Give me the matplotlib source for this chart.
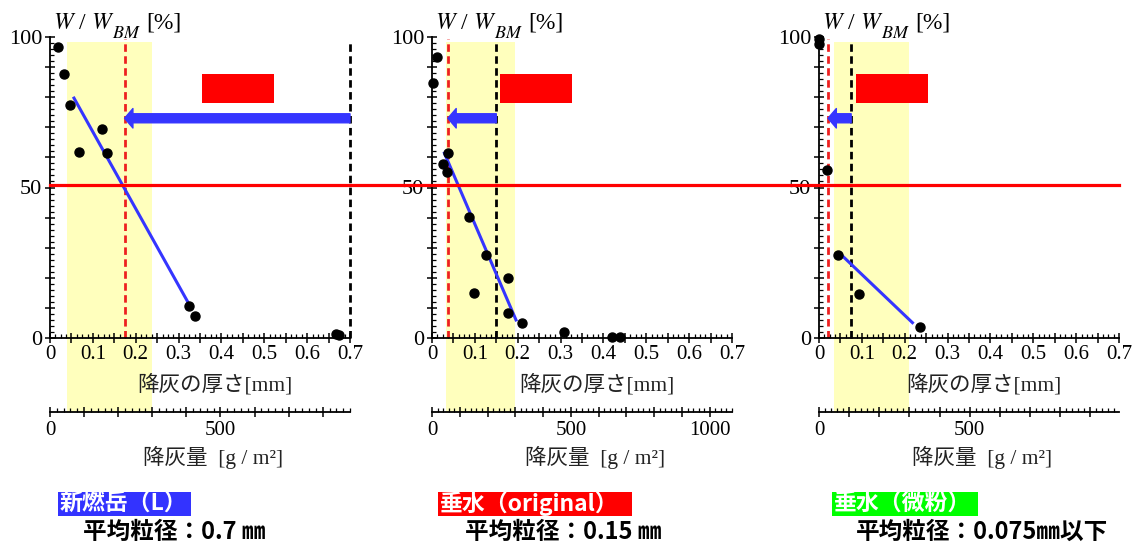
import matplotlib
matplotlib.use("Agg")
import matplotlib.pyplot as plt
from matplotlib.patches import Rectangle
from matplotlib.lines import Line2D
from matplotlib import transforms
from matplotlib.ticker import MultipleLocator, FuncFormatter

plt.rcParams["font.family"] = ["Liberation Serif", "Noto Sans CJK JP"]
plt.rcParams["mathtext.fontset"] = "stix"

# ---- data ----
thick_L = [0.019, 0.033, 0.047, 0.068, 0.122, 0.134, 0.324, 0.339, 0.667, 0.674]
ratio_L = [96.6, 87.7, 77.4, 61.7, 69.4, 61.4, 10.6, 7.3, 1.3, 1.0]
fit_x_L = [0.056, 0.323]
fit_y_L = [79.7, 11.6]

thick_O = [0.002, 0.012, 0.026, 0.036, 0.038, 0.087, 0.098, 0.126, 0.178, 0.178,
           0.209, 0.308, 0.421, 0.439]
ratio_O = [84.8, 93.2, 57.7, 55.3, 61.4, 40.3, 15.1, 27.6, 20.0, 8.2,
           5.1, 2.1, 0.2, 0.2]
fit_x_O = [0.029, 0.196]
fit_y_O = [61.4, 6.0]

thick_F = [0.0, 0.001, 0.018, 0.045, 0.093, 0.236]
ratio_F = [99.3, 97.8, 55.8, 27.6, 14.6, 3.5]
fit_x_F = [0.05, 0.218]
fit_y_F = [27.9, 5.1]

half_thick = [0.174, 0.037, 0.021]      # red dashed
grain_size = [0.7, 0.15, 0.075]         # black dashed
arrow_y = 73
redbox_x = [0.355, 0.158, 0.086]
redbox_w = 0.168
redbox_y = [78.1, 87.7]
band_gm2 = [50, 300]                    # yellow band in g/m2
gm2_max = [880, 1080, 995]              # g/m2 at 0.7 mm
level_50 = 50.8

names = ["新燃岳（L）", "垂水（original）", "垂水（微粉）"]
name_colors = ["#3333ff", "#ff0000", "#00ff00"]
grain_text = ["平均粒径：0.7 ㎜", "平均粒径：0.15 ㎜", "平均粒径：0.075㎜以下"]

panels = [(thick_L, ratio_L, fit_x_L, fit_y_L),
          (thick_O, ratio_O, fit_x_O, fit_y_O),
          (thick_F, ratio_F, fit_x_F, fit_y_F)]

# ---- layout (pixels) ----
W, H = 1137, 545
ax_left = [50, 432, 819]
ax_w = 300
ax_top, ax_bot = 37, 338
sec_y = 412
box_left = [58, 438, 832]
box_w = [133, 194, 146]
text_left = [83, 465, 856]

fig = plt.figure(figsize=(W / 100, H / 100), dpi=100)
blue = "#3535ff"
dash = (0, (2.7, 1.6))

axes = []
for i, (tx, ry, fx, fy) in enumerate(panels):
    x0 = ax_left[i]
    ax = fig.add_axes([x0 / W, (H - ax_bot) / H, ax_w / W, (ax_bot - ax_top) / H])
    ax.set_facecolor("none")
    axes.append(ax)
    ax.set_xlim(0, 0.7)
    ax.set_ylim(0, 100)
    for s in ["top", "right"]:
        ax.spines[s].set_visible(False)
    for s in ["left", "bottom"]:
        ax.spines[s].set_linewidth(1.3)

    ax.xaxis.set_major_locator(MultipleLocator(0.05))
    ax.xaxis.set_minor_locator(MultipleLocator(0.0125))
    ax.xaxis.set_major_formatter(FuncFormatter(
        lambda v, p: f"{v:.1f}".replace("0.0", "0") if abs(v * 10 - round(v * 10)) < 1e-6 else ""))
    ax.yaxis.set_major_locator(MultipleLocator(10))
    ax.yaxis.set_minor_locator(MultipleLocator(2))
    ax.yaxis.set_major_formatter(FuncFormatter(
        lambda v, p: f"{v:.0f}" if round(v) % 50 == 0 else ""))
    ax.tick_params(which="major", direction="inout", length=7, width=1.1)
    ax.tick_params(which="minor", direction="in", length=3, width=0.9)
    ax.tick_params(axis="x", which="major", pad=1.5, labelsize=15)
    ax.tick_params(axis="y", which="major", pad=2, labelsize=16)

    # yellow band
    mm_per_g = 0.7 / gm2_max[i]
    b0, b1 = band_gm2[0] * mm_per_g, band_gm2[1] * mm_per_g
    band_y0 = (ax_bot - sec_y) / (ax_bot - ax_top)
    band = Rectangle((b0, band_y0), b1 - b0, 0.985 - band_y0,
                     transform=transforms.blended_transform_factory(ax.transData, ax.transAxes),
                     facecolor="#ffffbd", edgecolor="none", zorder=0, clip_on=False)
    ax.add_patch(band)

    ax.plot(fx, fy, color=blue, lw=2.2, zorder=3)
    ax.plot(tx, ry, "o", color="black", ms=6.5, zorder=4, clip_on=False)

    ax.axvline(half_thick[i], ymax=0.995, color="#ee2020", lw=2.0,
               linestyle=dash, zorder=2)
    ax.axvline(grain_size[i], ymax=0.99, color="black", lw=2.0,
               linestyle=dash, zorder=2, clip_on=False)

    ax.add_patch(Rectangle((redbox_x[i], redbox_y[0]), redbox_w, redbox_y[1] - redbox_y[0],
                           facecolor="#ff0000", edgecolor="none", zorder=3))

    ax.annotate("", xy=(half_thick[i], arrow_y), xytext=(grain_size[i], arrow_y),
                arrowprops=dict(arrowstyle="simple,head_length=0.6,head_width=1.4,tail_width=0.65",
                                mutation_scale=10, color=blue, shrinkA=0, shrinkB=0),
                zorder=5)

    # y label: W / W_BM [%]
    base_y = 1.027
    t1 = ax.text(0.01, base_y, r"$W$ / $W$", transform=ax.transAxes,
                 fontsize=17, va="baseline", ha="left")
    t2 = ax.annotate(r"$BM$", xy=(1, base_y), xycoords=(t1, ax.transAxes),
                     xytext=(-2, -6.5), textcoords="offset points",
                     fontsize=13, va="baseline", ha="left")
    ax.annotate("[%]", xy=(1, base_y), xycoords=(t2, ax.transAxes),
                xytext=(4, 0), textcoords="offset points",
                fontsize=17, va="baseline", ha="left")

    ax.text(0.55, -0.156, "降灰の厚さ[mm]", transform=ax.transAxes,
            fontsize=15.5, ha="center", va="center", color="#222222")

    # secondary axis: ash load
    ax2 = fig.add_axes([x0 / W, (H - sec_y) / H, ax_w / W, 0.001])
    ax2.set_facecolor("none")
    ax2.set_xlim(0, gm2_max[i])
    ax2.set_yticks([])
    for s in ["top", "right", "left"]:
        ax2.spines[s].set_visible(False)
    ax2.spines["bottom"].set_linewidth(1.3)
    ax2.xaxis.set_major_locator(MultipleLocator(100))
    ax2.xaxis.set_minor_locator(MultipleLocator(20))
    ax2.xaxis.set_major_formatter(FuncFormatter(
        lambda v, p: f"{v:.0f}" if round(v) % 500 == 0 else ""))
    ax2.tick_params(which="major", direction="inout", length=7, width=1.1, labelsize=15, pad=3)
    ax2.tick_params(which="minor", direction="in", length=3, width=0.9)
    fig.text((x0 + ax_w / 2 + 13) / W, (H - 457) / H, "降灰量  [g / m²]",
             fontsize=15.5, ha="center", va="center", color="#222222")

    # bottom captions
    fig.patches.append(Rectangle((box_left[i] / W, (H - 516) / H), box_w[i] / W, 24 / H,
                                 transform=fig.transFigure, facecolor=name_colors[i],
                                 edgecolor="none"))
    fig.text((box_left[i] + 2) / W, (H - 504) / H, names[i], color="white",
             family=["Noto Sans CJK JP"], fontweight="bold", fontsize=16.5,
             ha="left", va="center")
    fig.text(text_left[i] / W, (H - 532) / H, grain_text[i], color="black",
             family=["Noto Sans CJK JP"], fontweight="bold", fontsize=17,
             ha="left", va="center")

# 50 % line across all panels
x_start = axes[0].get_position().x0
x_end = axes[2].get_position().x1
tr = transforms.blended_transform_factory(fig.transFigure, axes[0].transData)
fig.lines.append(Line2D([x_start, x_end], [level_50, level_50], transform=tr,
                        color="#ff0000", lw=2.3, zorder=6))

fig.savefig("out.png", dpi=100)
